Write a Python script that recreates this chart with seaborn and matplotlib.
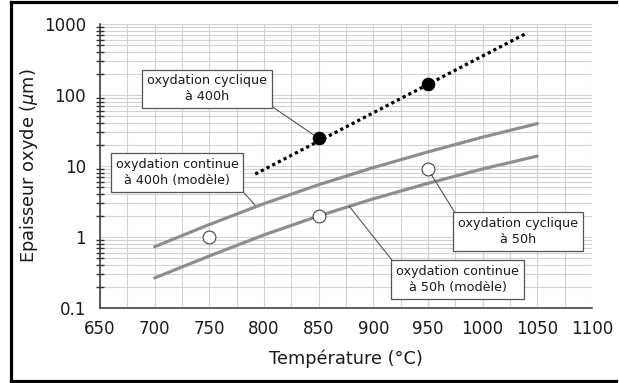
import numpy as np
import pandas as pd
import matplotlib
matplotlib.use("Agg")
import matplotlib.pyplot as plt
from matplotlib.lines import Line2D
from matplotlib.ticker import LogLocator, MultipleLocator, FixedLocator, NullFormatter
import seaborn as sns

# --- data -------------------------------------------------------------
temp_model = [700, 750, 800, 850, 900, 950, 1000, 1050]
cont_400h = [0.73, 1.5, 2.95, 5.45, 9.5, 15.8, 25.5, 39.5]   # continuous oxidation, 400 h (model)
cont_50h = [0.265, 0.54, 1.07, 1.98, 3.45, 5.7, 9.1, 13.8]   # continuous oxidation, 50 h (model)

temp_cyc400_fit = [792, 1040]
cyc_400h_fit = [7.7, 740]

temp_cyc400 = [850, 950]
cyc_400h = [24.5, 141]

temp_cyc50 = [750, 850, 950]
cyc_50h = [1.0, 2.0, 9.0]

x_ticks = [650, 700, 750, 800, 850, 900, 950, 1000, 1050, 1100]
y_ticks = [0.1, 1, 10, 100, 1000]
y_tick_labels = ["0.1", "1", "10", "100", "1000"]

# --- style ------------------------------------------------------------
sns.set_theme(style="white")
plt.rcParams["font.family"] = ["DejaVu Sans"]
plt.rcParams["mathtext.fontset"] = "dejavusans"

W, H = 619, 383
fig = plt.figure(figsize=(W / 100, H / 100), dpi=100)
fig.patch.set_facecolor("white")
fig.patch.set_edgecolor("white")
fig.patch.set_linewidth(0)
ax = fig.add_axes([100 / W, (H - 308) / H, 492 / W, 284 / H])
ax.set_facecolor("white")

grey_line = "#8e8e8e"
box_edge = "#555555"

models = pd.DataFrame({"T": temp_model, "c400": cont_400h, "c50": cont_50h})
fit = pd.DataFrame({"T": temp_cyc400_fit, "v": cyc_400h_fit})
pts400 = pd.DataFrame({"T": temp_cyc400, "v": cyc_400h})
pts50 = pd.DataFrame({"T": temp_cyc50, "v": cyc_50h})

sns.lineplot(data=models, x="T", y="c400", ax=ax, color=grey_line, lw=2.3,
             estimator=None, zorder=3)
sns.lineplot(data=models, x="T", y="c50", ax=ax, color=grey_line, lw=2.3,
             estimator=None, zorder=3)
sns.lineplot(data=fit, x="T", y="v", ax=ax, color="black", lw=2.3,
             estimator=None, zorder=3)
ax.lines[-1].set_linestyle((0, (1, 1)))
ax.lines[-1].set_dash_capstyle("butt")

sns.scatterplot(data=pts400, x="T", y="v", ax=ax, color="black", s=88,
                edgecolor="black", linewidth=0.4, zorder=5)
sns.scatterplot(data=pts50, x="T", y="v", ax=ax, color="white", s=85,
                edgecolor="#444444", linewidth=0.8, zorder=5)

# --- axes -------------------------------------------------------------
ax.set_yscale("log")
ax.set_xlim(650, 1100)
ax.set_ylim(0.1, 1000)
ax.xaxis.set_major_locator(FixedLocator(x_ticks))
ax.xaxis.set_minor_locator(MultipleLocator(25))
ax.yaxis.set_major_locator(FixedLocator(y_ticks))
ax.set_yticklabels(y_tick_labels)
ax.yaxis.set_minor_locator(LogLocator(base=10, subs=np.arange(2, 10), numticks=20))
ax.yaxis.set_minor_formatter(NullFormatter())

ax.grid(True, which="both", color="#d2d2d2", lw=0.8, zorder=0)
ax.set_axisbelow(True)

for side in ("top", "right"):
    ax.spines[side].set_visible(False)
for side in ("left", "bottom"):
    ax.spines[side].set_color("#333333")
    ax.spines[side].set_linewidth(1.1)

ax.tick_params(axis="both", which="major", direction="inout", length=8,
               width=1.0, color="#333333", labelsize=12, labelcolor="#1a1a1a")
ax.tick_params(axis="y", which="major", pad=6)
ax.tick_params(axis="x", which="major", pad=5)
ax.tick_params(axis="x", which="minor", direction="inout", length=8,
               width=1.0, color="#333333")
ax.tick_params(axis="y", which="minor", direction="inout", length=6,
               width=1.0, color="#333333", left=True)

ax.set_xlabel("Température (°C)", fontsize=12.8, color="#1a1a1a", labelpad=8)
ax.set_ylabel(r"Epaisseur oxyde ($\mu$m)", fontsize=12.8, color="#1a1a1a",
              labelpad=3)

# --- callouts ---------------------------------------------------------
box = dict(boxstyle="square,pad=0.38", fc="white", ec=box_edge, lw=0.9)


def callout(text, xy, xytext, relpos, shrink):
    ax.annotate(text, xy=xy, xycoords="data", xytext=xytext,
                textcoords="axes fraction", ha="center", va="center",
                fontsize=9.2, color="#1a1a1a", bbox=box, linespacing=1.25,
                zorder=6,
                arrowprops=dict(arrowstyle="-", color=box_edge, lw=0.8,
                                relpos=relpos, shrinkA=0, shrinkB=shrink))


callout("oxydation cyclique\nà 400h", (850, 24.5), (0.2169, 0.7722), (1, 0), 4.6)
callout("oxydation continue\nà 400h (modèle)", (792, 2.78), (0.1569, 0.4771), (1, 0), 0)
callout("oxydation cyclique\nà 50h", (950, 9.0), (0.849, 0.2694), (0, 1), 4.4)
callout("oxydation continue\nà 50h (modèle)", (878, 2.7), (0.7266, 0.1004), (0, 1), 0)

# figure frame on the left, top and bottom sides only
fx_left = 11 / W
fy_top = 1 - 1.8 / H
fy_bot = 1.6 / H
frame_kw = dict(transform=fig.transFigure, color="black", lw=2.3,
                solid_capstyle="projecting", clip_on=False)
fig.add_artist(Line2D([fx_left, 0.995], [fy_top, fy_top], **frame_kw))
fig.add_artist(Line2D([fx_left, 0.995], [fy_bot, fy_bot], **frame_kw))
fig.add_artist(Line2D([fx_left, fx_left], [fy_bot, fy_top], **frame_kw))

fig.savefig("out.png", dpi=100, facecolor="white")
